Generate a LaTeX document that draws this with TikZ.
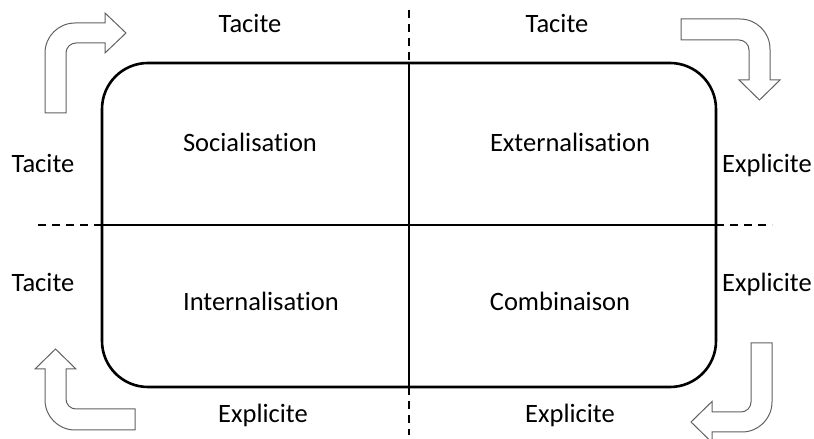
\documentclass[tikz,border=0pt]{standalone}
\usepackage{fontspec}
\setmainfont{Carlito}[RawFeature=-liga]
\usepackage{tikz}
\tikzset{every path/.style={line width=1.6pt}}
\tikzset{label/.style={anchor=base,font=\fontsize{26.5}{30}\selectfont}}
\tikzset{bentarrow/.style={line width=1pt,draw=black!62,fill=white}}
\tikzset{axisdash/.style={dash pattern=on 8pt off 6pt}}

\begin{document}
\begin{tikzpicture}[x=1pt,y=1pt]
\useasboundingbox (0,0) rectangle (814,439);
\draw[line width=2.6pt,rounded corners=46pt] (102,52) rectangle (716,376);
\coordinate (vtop) at (409,429);
\coordinate (vbot) at (409,4);
\coordinate (hleft) at (38,214);
\coordinate (hright) at (772,214);
\draw[axisdash] (vtop) -- (409,376);
\draw (409,376) -- (409,52);
\draw[axisdash] (409,52) -- (vbot);
\draw[axisdash] (hleft) -- (102,214);
\draw (102,214) -- (716,214);
\draw[axisdash] (716,214) -- (hright);
\draw[bentarrow] (45,326) -- (45,386) arc (180:90:30) -- (105,416) -- (105,426) -- (126,406) -- (105,386) -- (105,396) -- (76,396) arc (90:180:10) -- (66,326) -- cycle;
\draw[bentarrow] (681,420) -- (740,420) arc (90:0:30) -- (770,359) -- (780,359) -- (759.5,339) -- (739,359) -- (749,359) -- (749,389) arc (0:90:10) -- (681,399) -- cycle;
\draw[bentarrow] (135,9) -- (75,9) arc (270:180:30) -- (45,70) -- (35,70) -- (55.5,90) -- (76,70) -- (66,70) -- (66,40) arc (180:270:10) -- (135,30) -- cycle;
\draw[bentarrow] (751,96) -- (751,37) arc (0:-90:10) -- (712,27) -- (712,37.5) -- (691,17) -- (712,-3.5) -- (712,7) -- (742,7) arc (-90:0:30) -- (772,96) -- cycle;
\node[label] (tacTL) at (250,406) {Tacite};
\node[label] (tacTR) at (557,406) {Tacite};
\node[label] (tacL1) at (43,266) {Tacite};
\node[label] (tacL2) at (43,147) {Tacite};
\node[label] (expR1) at (767,266) {Explicite};
\node[label] (expR2) at (767,147) {Explicite};
\node[label] (expBL) at (263,16) {Explicite};
\node[label] (expBR) at (570,16) {Explicite};
\node[label] (soc) at (250,287) {Socialisation};
\node[label] (ext) at (570,287) {Externalisation};
\node[label] (int) at (261,128) {Internalisation};
\node[label] (com) at (560,128) {Combinaison};
\end{tikzpicture}
\end{document}
